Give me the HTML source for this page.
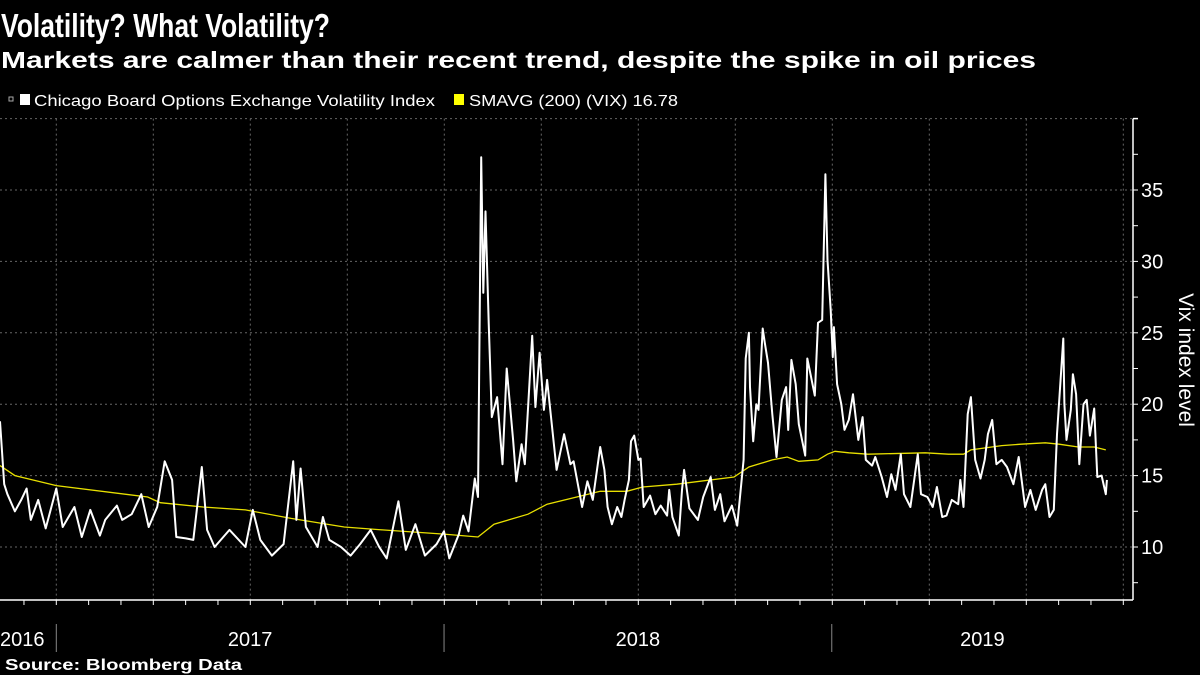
<!DOCTYPE html>
<html><head><meta charset="utf-8"><style>
html,body{margin:0;padding:0;background:#000;}
svg{display:block;font-family:"Liberation Sans",sans-serif;}
</style></head><body>
<svg id="chart" width="1200" height="675" viewBox="0 0 1200 675" xmlns="http://www.w3.org/2000/svg">
<rect width="1200" height="675" fill="#000"/>
<text x="1" y="37" fill="#fff" font-size="33" font-weight="bold" textLength="329" lengthAdjust="spacingAndGlyphs">Volatility? What Volatility?</text>
<text x="1" y="68" fill="#fff" font-size="23" font-weight="bold" textLength="1035" lengthAdjust="spacingAndGlyphs">Markets are calmer than their recent trend, despite the spike in oil prices</text>
<g>
<rect x="9" y="97" width="4" height="4" fill="none" stroke="#aaa" stroke-width="1"/>
<rect x="20" y="94" width="10" height="11" fill="#fff"/>
<text x="34" y="106" fill="#fff" font-size="16" textLength="401" lengthAdjust="spacingAndGlyphs">Chicago Board Options Exchange Volatility Index</text>
<rect x="454" y="94" width="10" height="11" fill="#ffff00"/>
<text x="469" y="106" fill="#fff" font-size="16" textLength="209" lengthAdjust="spacingAndGlyphs">SMAVG (200) (VIX) 16.78</text>
</g>
<g id="grid"></g>
<g id="axes"></g>
<g id="series"></g>
<text transform="translate(1179,360) rotate(90)" text-anchor="middle" fill="#fff" font-size="21">Vix index level</text>
<text x="5" y="670" fill="#fff" font-size="16" font-weight="bold" textLength="237" lengthAdjust="spacingAndGlyphs">Source: Bloomberg Data</text>
</svg>
<script>
// days since 2016-11-09
const vixDays = [0,4,7,14,20,25,29,36,43,53,59,70,77,85,94,99,110,115,124,133,140,148,155,162,166,175,182,190,195,202,216,231,238,245,256,267,276,279,283,288,299,304,310,321,330,339,349,357,364,375,382,391,400,411,418,423,432,436,441,447,450,453,455,457,460,463,468,473,477,483,486,491,494,501,504,508,512,515,524,531,537,540,548,553,558,565,569,572,576,581,585,588,592,594,597,601,603,606,612,617,622,628,630,633,639,642,644,649,657,662,669,673,678,682,689,694,700,702,705,706,709,712,714,718,720,723,727,731,736,740,742,745,749,752,758,760,763,767,770,774,777,779,782,784,785,788,792,795,799,803,808,812,815,821,824,830,835,839,843,848,851,857,864,867,873,878,882,887,891,896,902,904,907,911,914,918,923,927,930,934,938,943,948,954,959,965,970,975,981,984,988,992,995,1001,1002,1004,1008,1010,1013,1016,1020,1023,1026,1030,1033,1037,1041,1042];
const vixValues = [18.8,14.4,13.7,12.5,13.3,14.1,11.9,13.3,11.3,14.1,11.4,12.8,10.7,12.6,10.8,11.9,12.9,11.9,12.3,13.7,11.4,12.8,16.0,14.7,10.7,10.6,10.5,15.6,11.2,10.0,11.2,10.0,12.6,10.5,9.4,10.2,16.0,11.9,15.5,11.4,10.0,12.1,10.5,10.0,9.4,10.2,11.2,10.0,9.2,13.2,9.8,11.6,9.4,10.2,11.1,9.2,10.9,12.2,11.1,14.8,13.5,37.3,27.8,33.5,25.7,19.1,20.5,15.8,22.5,17.5,14.6,17.2,15.8,24.8,19.8,23.6,19.6,21.7,15.4,17.9,15.8,16.0,12.8,14.6,13.3,17.0,15.4,12.8,11.6,12.8,12.1,13.3,14.7,17.4,17.8,16.1,16.2,12.8,13.6,12.3,12.9,12.2,14.0,12.1,10.8,14.0,15.4,12.7,11.9,13.5,14.9,12.6,13.7,11.8,12.9,11.5,16.1,23.2,25.0,21.2,17.4,20.0,19.6,25.3,24.3,22.9,19.3,16.3,20.3,21.2,18.2,23.1,21.4,18.6,16.4,23.2,22.1,20.6,25.7,25.9,36.1,30.1,26.6,23.3,25.4,21.4,20.0,18.2,18.9,20.7,17.5,19.1,16.1,15.7,16.3,14.9,13.5,15.1,14.0,16.5,13.7,12.8,16.5,13.7,13.5,12.8,14.2,12.1,12.2,13.3,13.0,14.7,12.8,19.3,20.5,16.1,14.8,16.1,17.9,18.9,15.8,16.1,15.6,14.4,16.3,12.8,14.0,12.6,14.0,14.4,12.1,12.6,17.9,24.6,20.0,17.5,19.6,22.1,20.7,15.8,20.0,20.3,17.8,19.7,14.9,15.0,13.7,14.7];
const smaDays = [0,14,36,53,139,151,191,231,274,324,360,418,450,465,497,515,565,590,605,637,691,705,727,741,752,770,779,786,799,817,871,893,907,914,943,961,984,997,1015,1030,1041];
const smaValues = [15.7,15.0,14.6,14.3,13.5,13.1,12.8,12.6,12.0,11.4,11.2,10.9,10.7,11.6,12.3,13.0,13.9,13.9,14.2,14.4,14.9,15.6,16.1,16.3,16.0,16.1,16.5,16.7,16.6,16.5,16.6,16.5,16.5,16.8,17.1,17.2,17.3,17.2,17.0,17.0,16.8];
const yTicks = [10,15,20,25,30,35];
const yGrid = [10,15,20,25,30,35,40];
const yearLabels = ["2016","2017","2018","2019"];
const yearStartDays = [-200,53,418,783]; // days of Jan 1 relative to 2016-11-09
const NS = "http://www.w3.org/2000/svg";
const PX_PER_DAY = 388/365.25;
const X0 = 0, AXIS_X = 1133, PLOT_BOTTOM = 600;
function xScale(d){ return X0 + d*PX_PER_DAY; }
function yScale(v){ return 547 - (v-10)*14.28; }
function mk(tag, attrs, parent){ const e=document.createElementNS(NS,tag); for(const k in attrs) e.setAttribute(k,attrs[k]); parent.appendChild(e); return e; }
const grid=document.getElementById('grid'), axes=document.getElementById('axes'), series=document.getElementById('series');
// horizontal gridlines
yGrid.forEach(v=>{
  const l=mk('line',{x1:0,x2:AXIS_X,y1:yScale(v),y2:yScale(v),stroke:'#666','stroke-dasharray':'2,3','stroke-width':1},grid);
  
  
});
// monthly ticks & quarterly gridlines
const lastDay = 1075;
for(let m=0;m<40;m++){
  const d = 53 + m*365.25/12 - 3*365.25/12; // from 2016-10-01 approx
  if(d<0 || d>lastDay) continue;
  const x=xScale(d);
  if(m%3===0){
    const g=mk('line',{x1:x,x2:x,y1:yScale(40),y2:PLOT_BOTTOM,stroke:'#666','stroke-dasharray':'2,3','stroke-width':1},grid);
    
    
  }
  const t=mk('line',{x1:x,x2:x,y1:PLOT_BOTTOM,y2:PLOT_BOTTOM+5,stroke:'#fff','stroke-width':1},axes);
  
  
}
// x axis line
const xa=mk('line',{x1:0,x2:AXIS_X,y1:PLOT_BOTTOM,y2:PLOT_BOTTOM,stroke:'#fff','stroke-width':1.5},axes);


const ya=mk('line',{x1:AXIS_X,x2:AXIS_X,y1:yScale(40),y2:PLOT_BOTTOM,stroke:'#fff','stroke-width':1.5},axes);


const topTick=mk('line',{x1:AXIS_X,x2:AXIS_X+5,y1:yScale(40),y2:yScale(40),stroke:'#fff','stroke-width':1.5},axes);


for(let v=7.5; v<=37.5; v+=2.5){
  const yt=mk('line',{x1:AXIS_X,x2:AXIS_X+5,y1:yScale(v),y2:yScale(v),stroke:'#fff','stroke-width':1},axes);
  
  
}
yTicks.forEach(v=>{
  const t=mk('text',{x:AXIS_X+8,y:yScale(v)+7,fill:'#fff','font-size':20},axes);
  t.textContent=String(v);
  
  
});
// year labels & separators
yearLabels.forEach((lab,i)=>{
  const start=Math.max(0,xScale(yearStartDays[i]));
  const end=i<yearLabels.length-1?xScale(yearStartDays[i+1]):AXIS_X;
  let cx=(start+end)/2;
  const t=mk('text',{x:i===0?0:cx,y:646,fill:'#fff','font-size':20,'text-anchor':i===0?'start':'middle'},axes);
  t.textContent=lab;
  
  
  if(i>0){
    const s=mk('line',{x1:xScale(yearStartDays[i]),x2:xScale(yearStartDays[i]),y1:624,y2:652,stroke:'#888','stroke-width':1},axes);
    
    
  }
});
function pathFrom(days, vals){ return days.map((d,i)=>(i?'L':'M')+xScale(d).toFixed(1)+','+yScale(vals[i]).toFixed(1)).join(''); }
const sma=mk('path',{d:pathFrom(smaDays,smaValues),fill:'none',stroke:'#e8e000','stroke-width':1.3},series);


const vix=mk('path',{d:pathFrom(vixDays,vixValues),fill:'none',stroke:'#fff','stroke-width':2,'stroke-linejoin':'round'},series);


</script>
</body></html>
